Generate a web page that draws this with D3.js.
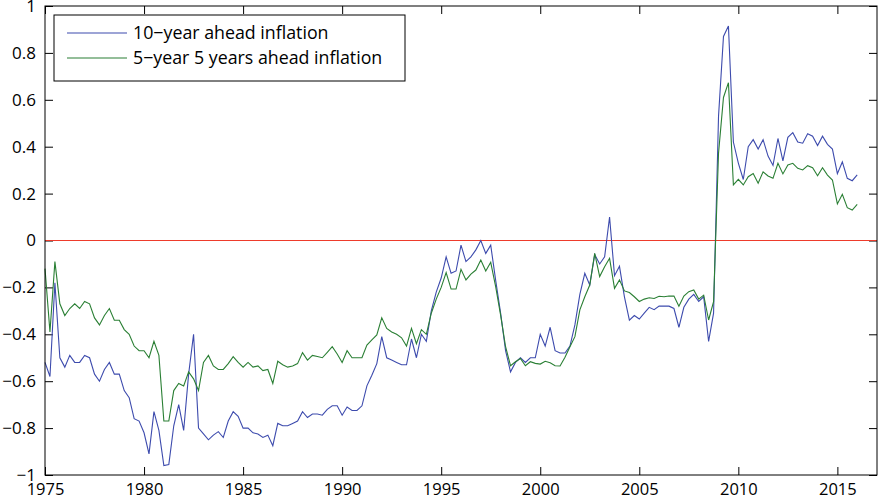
<!DOCTYPE html>
<html>
<head>
<meta charset="utf-8">
<script src="https://cdn.jsdelivr.net/npm/d3@7"></script>
<style>
	body { margin: 0; background: #fff; }
	.axis text { font-family: "Open Sans", sans-serif; font-size: 17px; fill: #000; }
	.axis.x text { font-size: 16.5px; }
	.axis line { stroke: #000; }
	.legend text { font-family: "Open Sans", sans-serif; font-size: 17.8px; fill: #000; }
</style>
</head>
<body>
<script>
// quarterly observations, first quarter of 1975 to first quarter of 2016
const startYear = 1975;

const tenYear = [
	-0.52, -0.58, -0.18, -0.50, -0.54, -0.49, -0.52, -0.52, -0.49, -0.50,
	-0.57, -0.60, -0.55, -0.52, -0.57, -0.57, -0.64, -0.67, -0.76, -0.77,
	-0.82, -0.91, -0.73, -0.81, -0.96, -0.955, -0.79, -0.70, -0.81, -0.57,
	-0.40, -0.80, -0.825, -0.85, -0.83, -0.815, -0.84, -0.77, -0.73, -0.75,
	-0.80, -0.80, -0.82, -0.825, -0.84, -0.83, -0.875, -0.78, -0.79, -0.79,
	-0.78, -0.77, -0.73, -0.755, -0.74, -0.74, -0.745, -0.72, -0.705, -0.705,
	-0.745, -0.71, -0.725, -0.725, -0.705, -0.62, -0.575, -0.525, -0.41, -0.50,
	-0.51, -0.52, -0.53, -0.53, -0.42, -0.50, -0.40, -0.43, -0.30, -0.22,
	-0.16, -0.07, -0.14, -0.13, -0.02, -0.09, -0.07, -0.04, 0.00, -0.055,
	-0.02, -0.17, -0.31, -0.47, -0.56, -0.52, -0.50, -0.52, -0.50, -0.50,
	-0.40, -0.45, -0.37, -0.47, -0.48, -0.48, -0.45, -0.36, -0.23, -0.14,
	-0.19, -0.06, -0.10, -0.07, 0.10, -0.15, -0.11, -0.24, -0.34, -0.32,
	-0.335, -0.31, -0.285, -0.295, -0.28, -0.28, -0.28, -0.29, -0.37, -0.285,
	-0.25, -0.23, -0.26, -0.24, -0.43, -0.31, 0.53, 0.87, 0.915, 0.42,
	0.33, 0.26, 0.40, 0.43, 0.39, 0.43, 0.36, 0.32, 0.435, 0.34,
	0.44, 0.46, 0.42, 0.415, 0.455, 0.445, 0.405, 0.445, 0.41, 0.39,
	0.285, 0.335, 0.265, 0.255, 0.28
];

const fiveFive = [
	-0.12, -0.39, -0.09, -0.27, -0.32, -0.29, -0.27, -0.29, -0.26, -0.27,
	-0.33, -0.36, -0.32, -0.29, -0.34, -0.34, -0.38, -0.40, -0.45, -0.47,
	-0.47, -0.50, -0.43, -0.49, -0.77, -0.77, -0.64, -0.61, -0.62, -0.56,
	-0.59, -0.64, -0.52, -0.49, -0.535, -0.55, -0.55, -0.525, -0.495, -0.52,
	-0.54, -0.52, -0.54, -0.535, -0.555, -0.55, -0.61, -0.515, -0.53, -0.54,
	-0.535, -0.525, -0.478, -0.51, -0.49, -0.495, -0.50, -0.477, -0.453, -0.484,
	-0.52, -0.47, -0.50, -0.50, -0.50, -0.446, -0.424, -0.403, -0.33, -0.375,
	-0.39, -0.40, -0.415, -0.45, -0.375, -0.44, -0.38, -0.40, -0.31, -0.25,
	-0.20, -0.137, -0.207, -0.207, -0.123, -0.168, -0.143, -0.126, -0.083, -0.13,
	-0.093, -0.197, -0.318, -0.453, -0.534, -0.517, -0.503, -0.534, -0.517, -0.524,
	-0.527, -0.515, -0.521, -0.534, -0.535, -0.498, -0.453, -0.41, -0.296, -0.24,
	-0.19, -0.055, -0.154, -0.112, -0.076, -0.204, -0.168, -0.215, -0.222, -0.24,
	-0.26, -0.25, -0.244, -0.247, -0.238, -0.24, -0.237, -0.237, -0.28, -0.237,
	-0.218, -0.211, -0.25, -0.233, -0.339, -0.261, 0.372, 0.61, 0.673, 0.237,
	0.261, 0.237, 0.272, 0.286, 0.244, 0.293, 0.275, 0.265, 0.329, 0.284,
	0.322, 0.329, 0.308, 0.301, 0.319, 0.31, 0.276, 0.31, 0.279, 0.258,
	0.156, 0.197, 0.14, 0.13, 0.154
];

const seriesNames = ["10\u2212year ahead inflation", "5\u2212year 5 years ahead inflation"];
const xTicks = [1975, 1980, 1985, 1990, 1995, 2000, 2005, 2010, 2015];
const yTicks = [-1, -0.8, -0.6, -0.4, -0.2, 0, 0.2, 0.4, 0.6, 0.8, 1];

// SVG size
const W = 879, H = 500;
const margin = {top: 6, right: 2, bottom: 25, left: 45};
const width = W - margin.left - margin.right,
	height = H - margin.top - margin.bottom;

const svg = d3.select("body").append("svg")
	.attr("width", W)
	.attr("height", H);

const g = svg.append("g")
	.attr("transform", "translate(" + margin.left + "," + margin.top + ")");

const x = d3.scaleLinear().domain([1975, 2017]).range([0, width]);
const y = d3.scaleLinear().domain([-1, 1]).range([height, 0]);

const fmt = d3.format("~g");
const tick = 8;

// axes, ticks point inwards on all four sides
g.append("g").attr("class", "axis x")
	.attr("transform", "translate(0," + height + ")")
	.call(d3.axisBottom(x).tickValues(xTicks).tickFormat(d3.format("d"))
		.tickSizeInner(-tick).tickSizeOuter(0).tickPadding(8));
g.append("g").attr("class", "axis")
	.call(d3.axisTop(x).tickValues(xTicks).tickFormat("")
		.tickSizeInner(-tick).tickSizeOuter(0));
g.append("g").attr("class", "axis")
	.call(d3.axisLeft(y).tickValues(yTicks).tickFormat(fmt)
		.tickSizeInner(-tick).tickSizeOuter(0).tickPadding(9));
g.append("g").attr("class", "axis")
	.attr("transform", "translate(" + width + ",0)")
	.call(d3.axisRight(y).tickValues(yTicks).tickFormat("")
		.tickSizeInner(-tick).tickSizeOuter(0));
g.selectAll(".axis .domain").remove();

// zero line
g.append("line")
	.attr("x1", 0).attr("x2", width)
	.attr("y1", y(0)).attr("y2", y(0))
	.attr("stroke", "#ee3b2b")
	.attr("stroke-width", 1.1);

const line = d3.line()
	.x(function(d, i) { return x(startYear + i / 4); })
	.y(function(d) { return y(d); });

const colors = ["#3d4bad", "#2a7f34"];

g.append("path").datum(tenYear)
	.attr("d", line).attr("fill", "none")
	.attr("stroke", colors[0]).attr("stroke-width", 1.1);

g.append("path").datum(fiveFive)
	.attr("d", line).attr("fill", "none")
	.attr("stroke", colors[1]).attr("stroke-width", 1.1);

// frame
g.append("rect")
	.attr("width", width).attr("height", height)
	.attr("fill", "none").attr("stroke", "#000").attr("stroke-width", 1);

// legend
const legend = g.append("g").attr("class", "legend")
	.attr("transform", "translate(" + (54 - margin.left) + "," + (15 - margin.top) + ")");
legend.append("rect")
	.attr("width", 351).attr("height", 66)
	.attr("fill", "#fff").attr("stroke", "#000").attr("stroke-width", 1);
seriesNames.forEach(function(name, i) {
	const ly = 18 + i * 25;
	legend.append("line")
		.attr("x1", 13).attr("x2", 73).attr("y1", ly).attr("y2", ly)
		.attr("stroke", colors[i]).attr("stroke-width", 1.1);
	legend.append("text")
		.attr("x", 79).attr("y", ly).attr("dy", "0.35em")
		.text(name);
});
</script>
</body>
</html>
